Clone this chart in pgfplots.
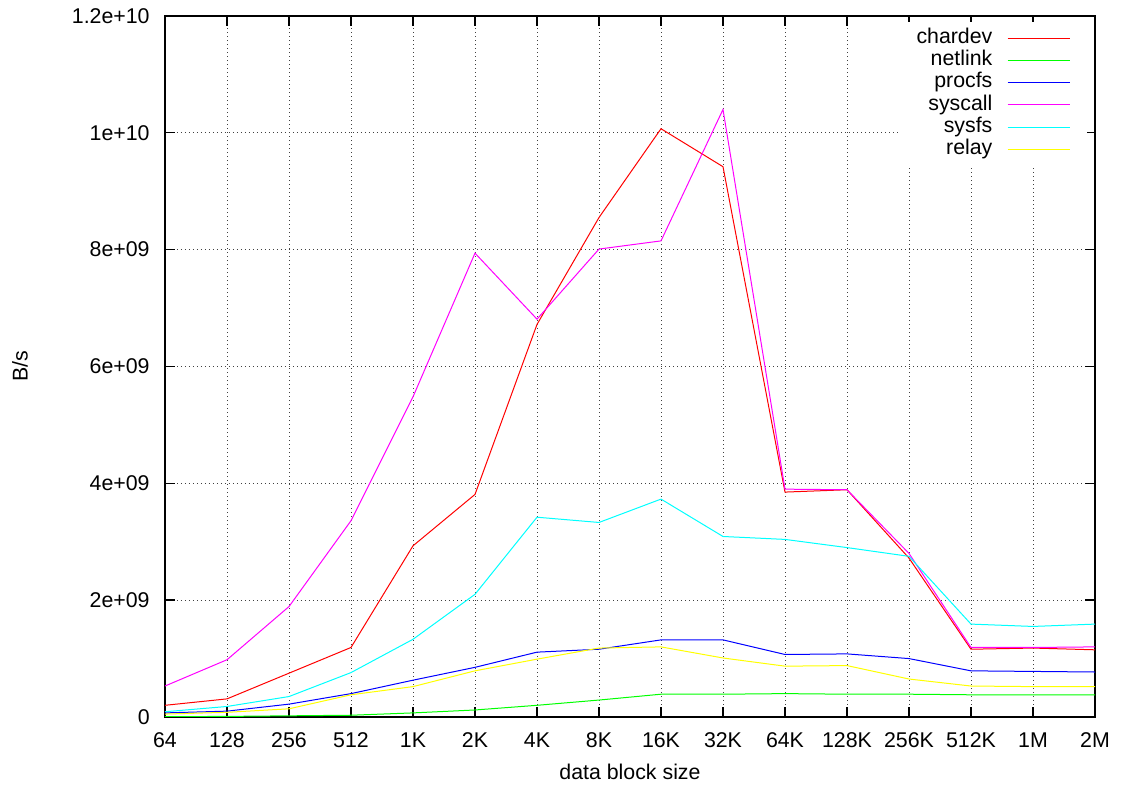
\documentclass[border=0pt]{standalone}
\usepackage{pgfplots}
\pgfplotsset{compat=1.18}
\usepackage{fontspec}
\setmainfont{Liberation Sans}
\definecolor{gpred}{RGB}{255,0,0}
\definecolor{gpgreen}{RGB}{0,255,0}
\definecolor{gpblue}{RGB}{0,0,255}
\definecolor{gpmagenta}{RGB}{255,0,255}
\definecolor{gpcyan}{RGB}{0,255,255}
\definecolor{gpyellow}{RGB}{255,255,0}
\begin{document}%
\fontsize{16pt}{19pt}\selectfont%
\begin{tikzpicture}[font=\fontsize{16pt}{19pt}\selectfont]
\begin{axis}[
  scale only axis,
  width=697.5pt, height=525.75pt,
  xmin=0, xmax=15, ymin=0, ymax=12,
  xtick={0,...,15},
  xticklabels={64,128,256,512,1K,2K,4K,8K,16K,32K,64K,128K,256K,512K,1M,2M},
  ytick={0,2,4,6,8,10,12},
  yticklabels={0,2e+09,4e+09,6e+09,8e+09,1e+10,1.2e+10},
  tick align=inside, tick pos=both,
  major tick length=7.5pt,
  axis line style={line width=1.1pt},
  every tick/.style={black, line width=1pt},
  grid=major,
  major grid style={black!75, line width=0.6pt, dash pattern=on 0.75pt off 2.25pt},
  xticklabel style={yshift=-6.5pt},
  yticklabel style={xshift=-6pt},
  xlabel={data block size},
  ylabel={B/s},
  every axis x label/.style={at={(axis description cs:0.5,-0.0785)}, anchor=center},
  every axis y label/.style={at={(axis description cs:-0.1559,0.5)}, anchor=center, rotate=90},
  legend cell align=right,
  legend plot pos=right,
  legend style={draw=none, fill=white, at={(1,1)}, anchor=north east, xshift=-6pt, yshift=-4.5pt,
    inner xsep=12pt, inner ysep=4pt, row sep=0.65pt,
    nodes={inner sep=0.5pt, text height=11.5pt, text depth=3.5pt},
    /tikz/every odd column/.append style={column sep=10.5pt}},
  legend image code/.code={\draw[#1] (0pt,0pt) -- (47pt,0pt);},
  every axis plot/.append style={line width=0.75pt},
]
\addplot[gpred] coordinates {(0,0.20)(1,0.31)(2,0.75)(3,1.19)(4,2.93)(5,3.81)(6,6.72)(7,8.55)(8,10.07)(9,9.42)(10,3.85)(11,3.89)(12,2.72)(13,1.16)(14,1.18)(15,1.15)};
\addlegendentry{chardev}
\addplot[gpgreen] coordinates {(0,0.005)(1,0.01)(2,0.02)(3,0.03)(4,0.07)(5,0.12)(6,0.20)(7,0.29)(8,0.39)(9,0.39)(10,0.40)(11,0.39)(12,0.39)(13,0.38)(14,0.38)(15,0.38)};
\addlegendentry{netlink}
\addplot[gpblue] coordinates {(0,0.07)(1,0.10)(2,0.22)(3,0.40)(4,0.63)(5,0.85)(6,1.11)(7,1.16)(8,1.32)(9,1.32)(10,1.07)(11,1.08)(12,1.00)(13,0.79)(14,0.78)(15,0.77)};
\addlegendentry{procfs}
\addplot[gpmagenta] coordinates {(0,0.53)(1,0.98)(2,1.89)(3,3.36)(4,5.48)(5,7.94)(6,6.81)(7,8.01)(8,8.15)(9,10.40)(10,3.90)(11,3.89)(12,2.80)(13,1.19)(14,1.19)(15,1.20)};
\addlegendentry{syscall}
\addplot[gpcyan] coordinates {(0,0.09)(1,0.18)(2,0.35)(3,0.76)(4,1.33)(5,2.10)(6,3.42)(7,3.33)(8,3.73)(9,3.09)(10,3.04)(11,2.90)(12,2.75)(13,1.59)(14,1.55)(15,1.59)};
\addlegendentry{sysfs}
\addplot[gpyellow] coordinates {(0,0.05)(1,0.08)(2,0.14)(3,0.38)(4,0.52)(5,0.79)(6,0.99)(7,1.18)(8,1.20)(9,1.01)(10,0.87)(11,0.88)(12,0.65)(13,0.53)(14,0.52)(15,0.52)};
\addlegendentry{relay}
\end{axis}
\path ([shift={(-123.75pt,-52.5pt)}]current axis.south west) rectangle ([shift={(20.25pt,12pt)}]current axis.north east);
\end{tikzpicture}%
\end{document}
